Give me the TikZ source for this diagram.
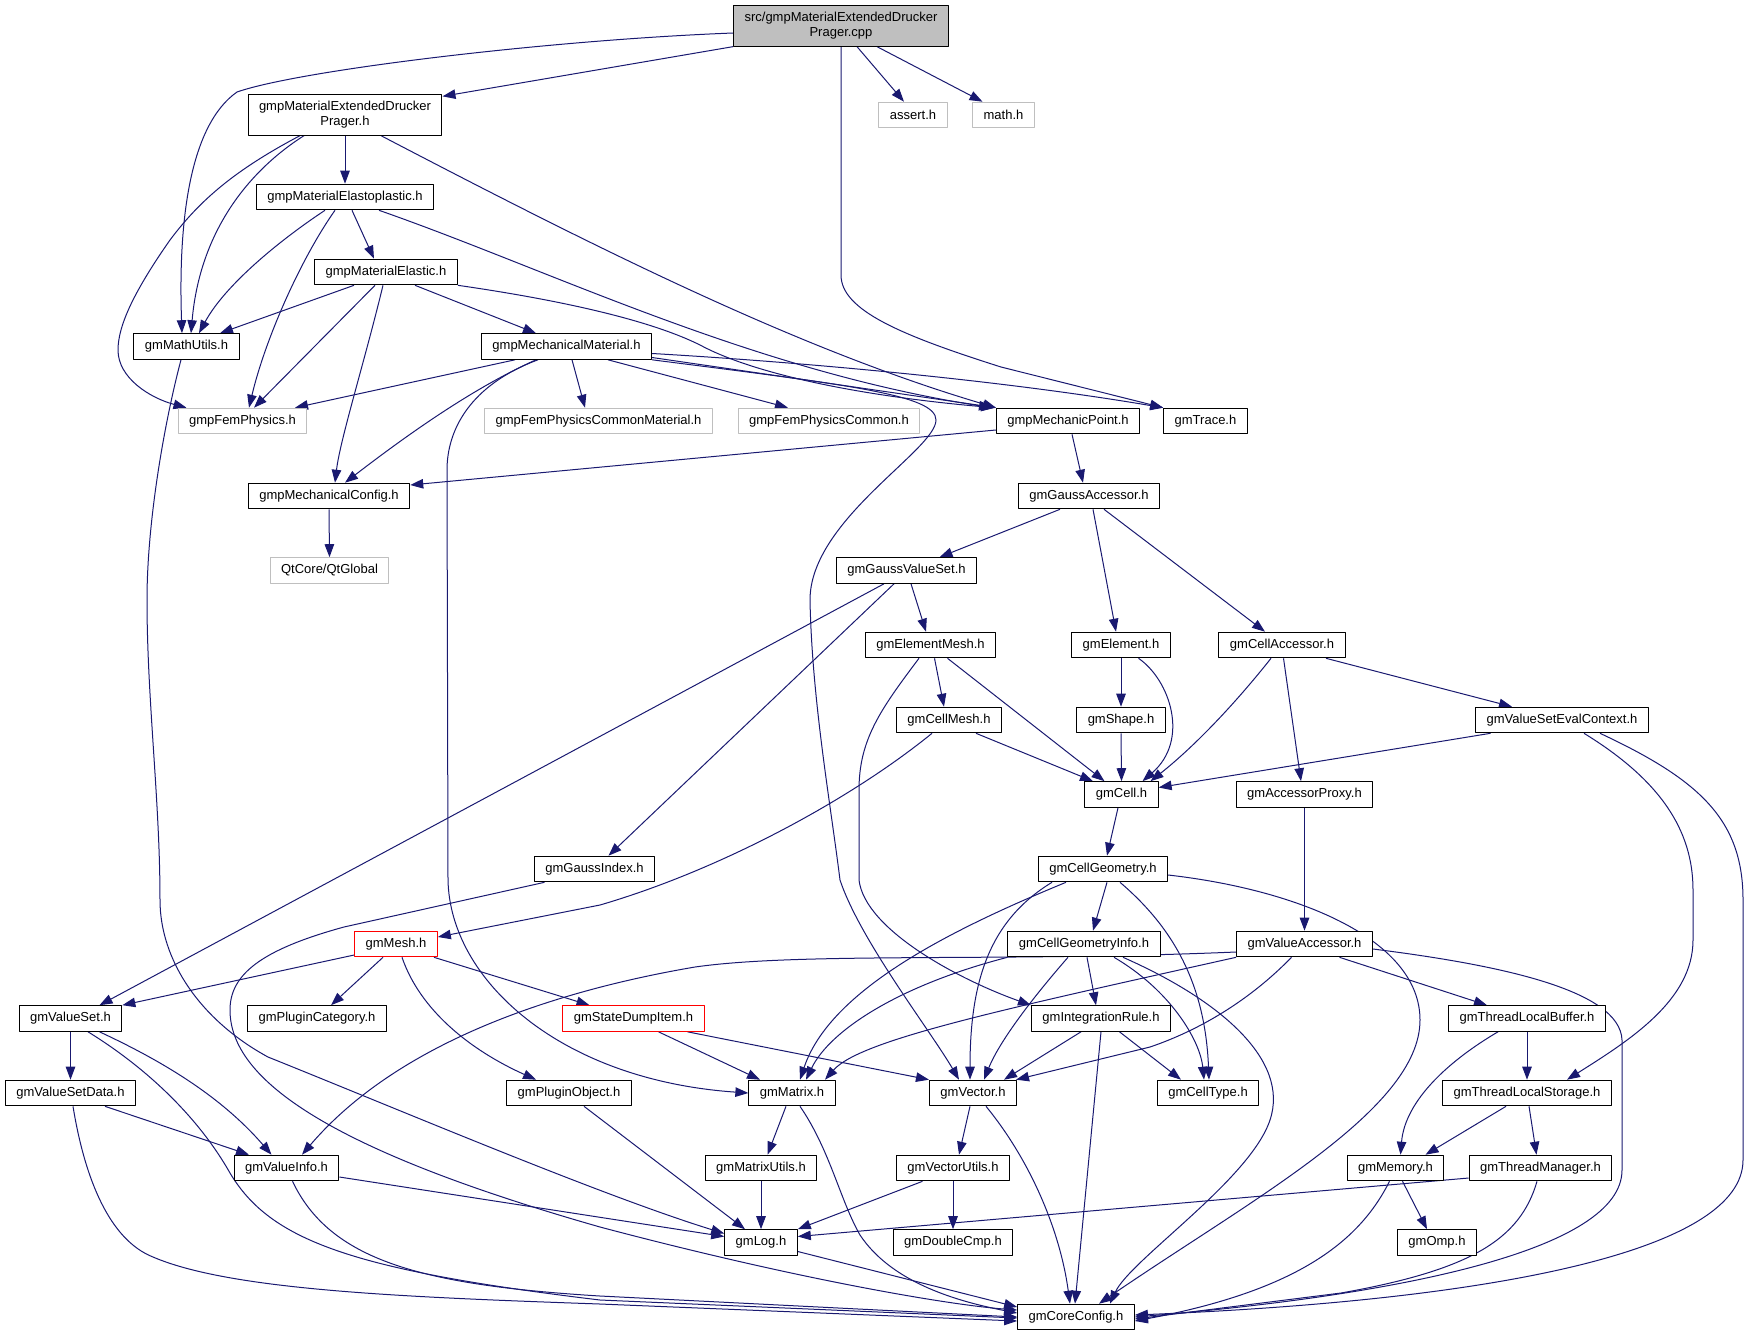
\documentclass[tikz,border=0pt]{standalone}
\usepackage{fontspec}
\setmainfont{Liberation Sans}
\usetikzlibrary{arrows.meta,backgrounds}
\definecolor{edgeblue}{RGB}{25,25,112}
\definecolor{sysgray}{RGB}{191,191,191}
\begin{document}
\begin{tikzpicture}[line cap=round,line join=round,x=1pt,y=-1pt,
	hdr/.style={draw=black,line width=1pt,fill=white,inner xsep=11pt,inner ysep=0pt,minimum height=25.6pt,font=\fontsize{13}{15}\selectfont,align=center},
	sys/.style={hdr,draw=sysgray},
	trunc/.style={hdr,draw=red},
	edge/.style={draw=edgeblue,line width=1pt,-{Triangle[length=13pt,width=9.5pt]}}]
	\useasboundingbox (0,0) rectangle (1747,1336);
	\node[hdr,fill=sysgray,minimum height=40.3pt] (root) at (841,26) {src/gmpMaterialExtendedDrucker\\Prager.cpp};
	\node[hdr,minimum height=40.3pt] (extdp) at (345,115) {gmpMaterialExtendedDrucker\\Prager.h};
	\node[sys] (assert) at (913,115) {assert.h};
	\node[sys] (math) at (1003.5,115) {math.h};
	\node[hdr] (elastoplastic) at (345,197) {gmpMaterialElastoplastic.h};
	\node[hdr] (elastic) at (386,272) {gmpMaterialElastic.h};
	\node[hdr] (mathutils) at (186.5,346.5) {gmMathUtils.h};
	\node[hdr] (mechmat) at (566.5,346.5) {gmpMechanicalMaterial.h};
	\node[sys] (fem) at (242.5,421) {gmpFemPhysics.h};
	\node[sys] (femcm) at (598.5,421) {gmpFemPhysicsCommonMaterial.h};
	\node[sys] (femc) at (829,421) {gmpFemPhysicsCommon.h};
	\node[hdr] (mechpt) at (1068,421) {gmpMechanicPoint.h};
	\node[hdr] (trace) at (1205.5,421) {gmTrace.h};
	\node[hdr] (mechcfg) at (329,496) {gmpMechanicalConfig.h};
	\node[hdr] (gaussacc) at (1089,496) {gmGaussAccessor.h};
	\node[sys] (qt) at (329.5,570.5) {QtCore/QtGlobal};
	\node[hdr] (gaussvs) at (906.5,570.5) {gmGaussValueSet.h};
	\node[hdr] (elemmesh) at (930.5,645) {gmElementMesh.h};
	\node[hdr] (element) at (1121,645) {gmElement.h};
	\node[hdr] (cellacc) at (1282,645) {gmCellAccessor.h};
	\node[hdr] (cellmesh) at (949,720) {gmCellMesh.h};
	\node[hdr] (shape) at (1121,720) {gmShape.h};
	\node[hdr] (vsevalctx) at (1562,720) {gmValueSetEvalContext.h};
	\node[hdr] (cell) at (1121.5,794.5) {gmCell.h};
	\node[hdr] (accproxy) at (1304.5,794.5) {gmAccessorProxy.h};
	\node[hdr] (gaussidx) at (594.5,869) {gmGaussIndex.h};
	\node[hdr] (cellgeom) at (1103,869) {gmCellGeometry.h};
	\node[trunc] (mesh) at (396,944) {gmMesh.h};
	\node[hdr] (cellgeominfo) at (1084,944) {gmCellGeometryInfo.h};
	\node[hdr] (valacc) at (1304.5,944) {gmValueAccessor.h};
	\node[hdr] (valueset) at (70.5,1018.5) {gmValueSet.h};
	\node[hdr] (plugincat) at (317,1018.5) {gmPluginCategory.h};
	\node[trunc] (statedump) at (633.5,1018.5) {gmStateDumpItem.h};
	\node[hdr] (intrule) at (1101,1018.5) {gmIntegrationRule.h};
	\node[hdr] (tlbuffer) at (1527,1018.5) {gmThreadLocalBuffer.h};
	\node[hdr] (valuesetdata) at (70.5,1093) {gmValueSetData.h};
	\node[hdr] (pluginobj) at (569,1093) {gmPluginObject.h};
	\node[hdr] (matrix) at (792,1093) {gmMatrix.h};
	\node[hdr] (vector) at (973,1093) {gmVector.h};
	\node[hdr] (celltype) at (1208,1093) {gmCellType.h};
	\node[hdr] (tlstorage) at (1527,1093) {gmThreadLocalStorage.h};
	\node[hdr] (valueinfo) at (286.5,1168) {gmValueInfo.h};
	\node[hdr] (matrixutils) at (761,1168) {gmMatrixUtils.h};
	\node[hdr] (vectorutils) at (953,1168) {gmVectorUtils.h};
	\node[hdr] (memory) at (1395.5,1168) {gmMemory.h};
	\node[hdr] (threadmgr) at (1540.5,1168) {gmThreadManager.h};
	\node[hdr] (log) at (761,1242.5) {gmLog.h};
	\node[hdr] (doublecmp) at (953,1242.5) {gmDoubleCmp.h};
	\node[hdr] (omp) at (1437,1242.5) {gmOmp.h};
	\node[hdr] (coreconfig) at (1076,1317) {gmCoreConfig.h};
	\begin{scope}[on background layer]
	\draw[edge] ([yshift=-7]root.west) .. controls (550,40) and (300,70) .. (237,92) .. controls (190,125) and (178,220) .. ([xshift=-4.5]mathutils.north);
	\draw[edge] (root.south west) -- ([yshift=-2]extdp.north east);
	\draw[edge] ([xshift=16]root.south) -- ([xshift=-9]assert.north);
	\draw[edge] ([xshift=36]root.south) -- ([xshift=-21]math.north);
	\draw[edge] (root.south) -- (841,275) .. controls (841,310) and (900,335) .. (1001,367) -- (trace.north west);
	\draw[edge] ([xshift=-45]extdp.south) .. controls (235,170) and (200,200) .. (170,240) .. controls (135,290) and (118,325) .. (118,350) .. controls (118,378) and (150,398) .. ([xshift=-56]fem.north);
	\draw[edge] ([xshift=-41]extdp.south) .. controls (250,170) and (200,230) .. ([xshift=4.5]mathutils.north);
	\draw[edge] (extdp.south) -- (elastoplastic.north);
	\draw[edge] ([xshift=36]extdp.south) .. controls (600,250) and (800,350) .. ([xshift=-72]mechpt.north);
	\draw[edge] ([xshift=-20]elastoplastic.south) .. controls (280,240) and (225,285) .. ([xshift=12.5]mathutils.north);
	\draw[edge] ([xshift=-10]elastoplastic.south) .. controls (300,260) and (265,340) .. ([xshift=6.5]fem.north);
	\draw[edge] ([xshift=7]elastoplastic.south) -- ([xshift=-12]elastic.north);
	\draw[edge] ([xshift=34]elastoplastic.south) .. controls (550,270) and (750,370) .. ([xshift=-76]mechpt.north);
	\draw[edge] ([xshift=-32]elastic.south) -- ([xshift=33.5]mathutils.north);
	\draw[edge] ([xshift=-11]elastic.south) -- ([xshift=11.5]fem.north);
	\draw[edge] ([xshift=-3]elastic.south) .. controls (365,360) and (340,440) .. ([xshift=6]mechcfg.north);
	\draw[edge] ([xshift=29]elastic.south) -- ([xshift=-30.5]mechmat.north);
	\draw[edge] (elastic.south east) .. controls (560,300) and (650,320) .. (700,345) .. controls (750,372) and (850,395) .. ([xshift=-74]mechpt.north);
	\draw[edge] ([xshift=-51.5]mechmat.south) -- ([xshift=52.5]fem.north);
	\draw[edge] ([xshift=-30.5]mechmat.south) .. controls (480,385) and (420,425) .. ([xshift=16]mechcfg.north);
	\draw[edge] ([xshift=-28.5]mechmat.south) .. controls (470,385) and (447,430) .. (447,470) -- (448,880) .. controls (450,980) and (560,1080) .. (matrix.west);
	\draw[edge] ([xshift=5.5]mechmat.south) -- ([xshift=-13.5]femcm.north);
	\draw[edge] ([xshift=41.5]mechmat.south) -- ([xshift=-41]femc.north);
	\draw[edge] ([yshift=-11]mechmat.east) -- ([xshift=-72]mechpt.north);
	\draw[edge] ([yshift=-7]mechmat.east) .. controls (800,362) and (1000,380) .. (trace.north west);
	\draw[edge] (mechmat.south east) .. controls (850,385) and (936,395) .. (936,420) .. controls (936,450) and (810,520) .. (810,600) .. controls (812,700) and (830,800) .. (840,880) .. controls (860,940) and (930,1030) .. ([xshift=-14]vector.north);
	\draw[edge] ([yshift=-9]mechpt.west) -- ([yshift=11]mechcfg.east);
	\draw[edge] ([xshift=4]mechpt.south) -- ([xshift=-6]gaussacc.north);
	\draw[edge] (mechcfg.south) -- (qt.north);
	\draw[edge] ([xshift=-5.5]mathutils.south) .. controls (165,420) and (147,520) .. (147,600) .. controls (147,700) and (160,800) .. (160,900) .. controls (160,960) and (200,1020) .. (268,1057) .. controls (400,1110) and (600,1195) .. ([yshift=9]log.west);
	\draw[edge] ([xshift=-29]gaussacc.south) -- ([xshift=33]gaussvs.north);
	\draw[edge] ([xshift=4]gaussacc.south) -- ([xshift=-5]element.north);
	\draw[edge] ([xshift=15]gaussacc.south) -- ([xshift=-17]cellacc.north);
	\draw[edge] ([xshift=-22.5]gaussvs.south) -- ([xshift=29]valueset.north);
	\draw[edge] ([xshift=-12.5]gaussvs.south) -- ([xshift=14]gaussidx.north);
	\draw[edge] ([xshift=4.5]gaussvs.south) -- ([xshift=-4.5]elemmesh.north);
	\draw[edge] ([xshift=4]elemmesh.south) -- ([xshift=-5]cellmesh.north);
	\draw[edge] ([xshift=17]elemmesh.south) -- ([xshift=-17]cell.north);
	\draw[edge] ([xshift=-11.5]elemmesh.south) .. controls (880,710) and (859,740) .. (859,790) -- (859,880) .. controls (865,930) and (960,980) .. (intrule.north west);
	\draw[edge] (element.south) -- (shape.north);
	\draw[edge] ([xshift=17.5]element.south) .. controls (1170,680) and (1190,740) .. ([xshift=21]cell.north);
	\draw[edge] ([xshift=-11]cellacc.south) .. controls (1230,710) and (1190,750) .. ([xshift=29]cell.north);
	\draw[edge] ([xshift=1.5]cellacc.south) -- ([xshift=-3.5]accproxy.north);
	\draw[edge] ([xshift=44]cellacc.south) -- ([xshift=-50]vsevalctx.north);
	\draw[edge] ([xshift=27]cellmesh.south) -- ([xshift=-28.5]cell.north);
	\draw[edge] ([xshift=-17]cellmesh.south) .. controls (850,800) and (720,870) .. (600,905) -- ([yshift=7]mesh.east);
	\draw[edge] (shape.south) -- (cell.north);
	\draw[edge] ([xshift=-71.5]vsevalctx.south) -- ([yshift=7]cell.east);
	\draw[edge] ([xshift=22]vsevalctx.south) .. controls (1660,780) and (1693,830) .. (1693,890) -- (1693,940) .. controls (1693,1000) and (1630,1040) .. ([xshift=40]tlstorage.north);
	\draw[edge] ([xshift=38]vsevalctx.south) .. controls (1700,780) and (1743,820) .. (1743,900) -- (1743,1160) .. controls (1743,1250) and (1500,1300) .. ([yshift=2]coreconfig.east);
	\draw[edge] ([xshift=-3.5]cell.south) -- ([xshift=4]cellgeom.north);
	\draw[edge] (accproxy.south) -- (valacc.north);
	\draw[edge] ([xshift=-50]gaussidx.south) -- (344,927) .. controls (260,950) and (230,975) .. (230,1010) .. controls (230,1080) and (330,1150) .. (600,1227) .. controls (800,1280) and (950,1305) .. ([yshift=7]coreconfig.west);
	\draw[edge] ([xshift=4]cellgeom.south) -- ([xshift=9]cellgeominfo.north);
	\draw[edge] ([xshift=-37]cellgeom.south) .. controls (950,930) and (830,990) .. ([xshift=8]matrix.north);
	\draw[edge] ([xshift=-51]cellgeom.south) .. controls (990,920) and (970,980) .. ([xshift=-3]vector.north);
	\draw[edge] ([xshift=17]cellgeom.south) .. controls (1170,925) and (1205,980) .. ([xshift=1]celltype.north);
	\draw[edge] ([yshift=-6]cellgeom.east) .. controls (1300,890) and (1420,940) .. (1420,1020) .. controls (1420,1110) and (1250,1200) .. ([xshift=23]coreconfig.north);
	\draw[edge] ([yshift=-8]valacc.west) .. controls (1000,962) and (800,952) .. (695,967) .. controls (560,990) and (400,1040) .. ([xshift=15.5]valueinfo.north);
	\draw[edge] (valacc.south west) .. controls (1000,1010) and (860,1040) .. ([xshift=33]matrix.north);
	\draw[edge] ([xshift=-13]valacc.south) .. controls (1250,1000) and (1200,1030) .. (1150,1047) -- ([xshift=43]vector.north);
	\draw[edge] ([xshift=35]valacc.south) -- ([xshift=-40]tlbuffer.north);
	\draw[edge] ([yshift=-5]valacc.east) .. controls (1500,965) and (1620,990) .. (1622,1040) -- (1622,1170) .. controls (1622,1250) and (1400,1295) .. (coreconfig.east);
	\draw[edge] (cellgeominfo.south west) .. controls (900,985) and (830,1030) .. ([xshift=14]matrix.north);
	\draw[edge] ([xshift=-16]cellgeominfo.south) .. controls (1035,995) and (1000,1040) .. ([xshift=11]vector.north);
	\draw[edge] ([xshift=3]cellgeominfo.south) -- ([xshift=-5]intrule.north);
	\draw[edge] ([xshift=30]cellgeominfo.south) .. controls (1170,990) and (1200,1040) .. ([xshift=-4]celltype.north);
	\draw[edge] ([xshift=39]cellgeominfo.south) .. controls (1220,1000) and (1290,1060) .. (1270,1120) .. controls (1250,1180) and (1130,1260) .. ([xshift=34]coreconfig.north);
	\draw[edge] ([yshift=-11]mesh.west) -- (valueset.north east);
	\draw[edge] ([xshift=-13]mesh.south) -- ([xshift=14]plugincat.north);
	\draw[edge] ([xshift=6]mesh.south) .. controls (420,1010) and (470,1050) .. ([xshift=-33]pluginobj.north);
	\draw[edge] ([xshift=38]mesh.south) -- ([xshift=-44]statedump.north);
	\draw[edge] ([xshift=-20]intrule.south) -- ([xshift=31]vector.north);
	\draw[edge] ([xshift=18.5]intrule.south) -- ([xshift=-27]celltype.north);
	\draw[edge] (intrule.south) -- ([xshift=-1]coreconfig.north);
	\draw[edge] (valueset.south) -- (valuesetdata.north);
	\draw[edge] ([xshift=29]valueset.south) .. controls (160,1060) and (220,1095) .. ([xshift=-15]valueinfo.north);
	\draw[edge] ([xshift=17.5]valueset.south) .. controls (150,1070) and (200,1120) .. (230,1173) .. controls (270,1240) and (350,1270) .. (600,1300) -- ([yshift=-1]coreconfig.west);
	\draw[edge] ([xshift=34.5]valuesetdata.south) -- ([xshift=-37.5]valueinfo.north);
	\draw[edge] ([xshift=2.5]valuesetdata.south) .. controls (85,1180) and (110,1240) .. (153,1257) .. controls (230,1290) and (400,1297) .. (600,1304) -- ([yshift=-4]coreconfig.west);
	\draw[edge] ([xshift=25]statedump.south) -- ([xshift=-32]matrix.north);
	\draw[edge] ([xshift=54]statedump.south) -- (vector.north west);
	\draw[edge] ([xshift=15]pluginobj.south) -- ([xshift=-16]log.north);
	\draw[edge] ([xshift=-6]matrix.south) -- ([xshift=6.5]matrixutils.north);
	\draw[edge] ([xshift=8]matrix.south) .. controls (830,1150) and (840,1200) .. (860,1235) .. controls (890,1280) and (950,1300) .. ([yshift=4]coreconfig.west);
	\draw[edge] ([xshift=-3]vector.south) -- ([xshift=6]vectorutils.north);
	\draw[edge] ([xshift=13]vector.south) .. controls (1030,1160) and (1060,1230) .. ([xshift=-6]coreconfig.north);
	\draw[edge] ([yshift=-9]valueinfo.east) -- ([yshift=6]log.west);
	\draw[edge] ([xshift=6]valueinfo.south) .. controls (330,1260) and (420,1285) .. (600,1296) -- (coreconfig.west);
	\draw[edge] (tlbuffer.south) -- (tlstorage.north);
	\draw[edge] ([xshift=-29]tlbuffer.south) .. controls (1450,1060) and (1405,1100) .. ([xshift=5]memory.north);
	\draw[edge] ([xshift=-21]tlstorage.south) -- ([xshift=30]memory.north);
	\draw[edge] ([xshift=2]tlstorage.south) -- ([xshift=-4]threadmgr.north);
	\draw[edge] (matrixutils.south) -- (log.north);
	\draw[edge] ([xshift=-30.5]vectorutils.south) -- (log.north east);
	\draw[edge] (vectorutils.south) -- (doublecmp.north);
	\draw[edge] ([xshift=7]memory.south) -- ([xshift=-10]omp.north);
	\draw[edge] ([xshift=-6]memory.south) .. controls (1360,1240) and (1300,1290) .. ([yshift=-4]coreconfig.east);
	\draw[edge] ([yshift=-10]threadmgr.west) -- ([yshift=6]log.east);
	\draw[edge] ([xshift=-3.5]threadmgr.south) .. controls (1520,1240) and (1470,1270) .. (1341,1293) -- ([yshift=-2]coreconfig.east);
	\draw[edge] ([yshift=-9]log.east) -- ([yshift=10]coreconfig.west);
	\end{scope}
\end{tikzpicture}
\end{document}
